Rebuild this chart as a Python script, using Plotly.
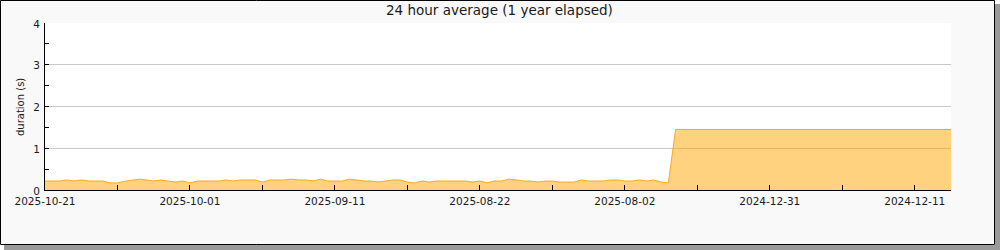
import plotly.graph_objects as go

# ---- data ----
day_index = list(range(126))  # days counted from the left edge (2025-10-21)
duration_s = [
    0.215, 0.215, 0.215, 0.24, 0.215, 0.24, 0.215, 0.215, 0.215, 0.17,
    0.17, 0.21, 0.24, 0.26, 0.24, 0.215, 0.24, 0.215, 0.19, 0.215,
    0.17, 0.215, 0.215, 0.215, 0.215, 0.24, 0.215, 0.24, 0.24, 0.24,
    0.19, 0.24, 0.24, 0.24, 0.26, 0.24, 0.24, 0.215, 0.26, 0.215,
    0.215, 0.215, 0.26, 0.24, 0.215, 0.215, 0.19, 0.215, 0.24, 0.24,
    0.19, 0.17, 0.215, 0.19, 0.215, 0.215, 0.215, 0.215, 0.215, 0.19,
    0.215, 0.17, 0.215, 0.215, 0.26, 0.24, 0.215, 0.215, 0.19, 0.215,
    0.215, 0.19, 0.19, 0.19, 0.24, 0.215, 0.215, 0.215, 0.24, 0.24,
    0.215, 0.215, 0.24, 0.215, 0.24, 0.19, 0.17,
    1.45, 1.45, 1.45, 1.45, 1.45, 1.45, 1.45, 1.45, 1.45, 1.45,
    1.45, 1.45, 1.45, 1.45, 1.45, 1.45, 1.45, 1.45, 1.45, 1.45,
    1.45, 1.45, 1.45, 1.45, 1.45, 1.45, 1.45, 1.45, 1.45, 1.45,
    1.45, 1.45, 1.45, 1.45, 1.45, 1.45, 1.45, 1.45, 1.45,
]
tick_days = [0, 20, 40, 60, 80, 100, 120]
tick_labels = ["2025-10-21", "2025-10-01", "2025-09-11", "2025-08-22",
               "2025-08-02", "2024-12-31", "2024-12-11"]
minor_tick_days = [10, 30, 50, 70, 90, 110]
title_text = "24 hour average (1 year elapsed)"
y_title = "duration (s)"

# ---- layout geometry (pixels) ----
W, H = 1000, 250
L, R, T, B = 45, 49, 23, 60
PW, PH = W - L - R, H - T - B


def px(x):
    return (x - L) / PW


def py(y):
    return (H - B - y) / PH


FONT = "DejaVu Sans"

fig = go.Figure()
fig.add_trace(go.Scatter(
    x=day_index, y=duration_s, mode="lines",
    line=dict(color="#FFA820", width=1),
    fill="tozeroy", fillcolor="rgba(255,165,0,0.5)",
    hoverinfo="skip", showlegend=False,
))

fig.update_layout(
    width=W, height=H,
    margin=dict(l=L, r=R, t=T, b=B),
    paper_bgcolor="white", plot_bgcolor="white",
    font=dict(family=FONT, size=10.5, color="#1a1a1a"),
    xaxis=dict(
        range=[0, 125], tickvals=tick_days, ticktext=tick_labels,
        showgrid=False, zeroline=False,
        showline=True, linecolor="black", linewidth=1,
        ticks="inside", ticklen=5, tickcolor="black", tickwidth=1,
        minor=dict(tickvals=minor_tick_days, ticks="inside", ticklen=5,
                   tickcolor="black", showgrid=False),
        tickfont=dict(family=FONT, size=10.5, color="#1a1a1a"),
        ticklabelstandoff=1,
    ),
    yaxis=dict(
        range=[0, 4], dtick=1, tick0=0,
        showgrid=True, gridcolor="#c8c8c8", gridwidth=1, zeroline=False,
        showline=True, linecolor="black", linewidth=1,
        ticks="inside", ticklen=4, tickcolor="black",
        minor=dict(dtick=0.5, ticks="inside", ticklen=4, tickcolor="black",
                   showgrid=False),
        tickfont=dict(family=FONT, size=10.5, color="#1a1a1a"),
        ticklabelstandoff=2,
        ticklabelshift=1,
    ),
    shapes=[
        dict(type="rect", xref="paper", yref="paper", layer="below",
             x0=px(4), x1=px(1000), y0=py(4), y1=py(250),
             fillcolor="#9a9a9a", line=dict(width=0)),
        dict(type="rect", xref="paper", yref="paper", layer="below",
             x0=px(0.5), x1=px(994.5), y0=py(0.5), y1=py(244.5),
             fillcolor="#f9f9f9", line=dict(color="black", width=1)),
        dict(type="rect", xref="paper", yref="paper", layer="below",
             x0=0, x1=1, y0=0, y1=1,
             fillcolor="white", line=dict(width=0)),
    ],
    annotations=[
        dict(text=title_text, xref="paper", yref="paper",
             x=px(499), y=py(10), showarrow=False,
             xanchor="center", yanchor="middle",
             font=dict(family=FONT, size=13.5, color="#1a1a1a")),
        dict(text=y_title, xref="paper", yref="paper",
             x=px(20), y=py(107), showarrow=False, textangle=-90,
             xanchor="center", yanchor="middle",
             font=dict(family=FONT, size=10, color="#1a1a1a")),
    ],
)

fig.write_html("out.html")
